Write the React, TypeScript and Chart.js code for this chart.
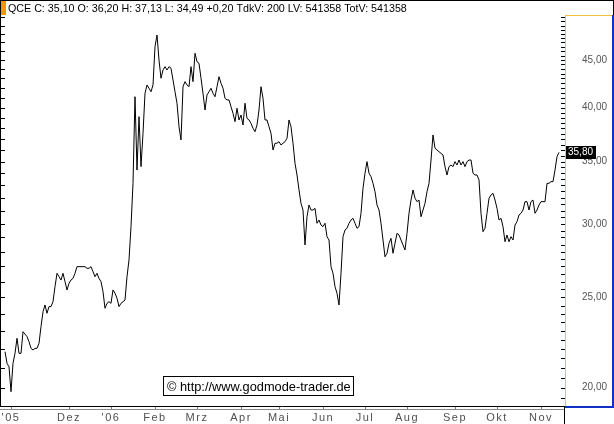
import React, { useEffect, useRef } from "react";
import { Chart, registerables } from "chart.js";

Chart.register(...registerables);

const FONT = "'Liberation Sans', Arial, Helvetica, sans-serif";

const headerText =
  "QCE C: 35,10 O: 36,20 H: 37,13 L: 34,49 +0,20 TdkV: 200 LV: 541358 TotV: 541358";
const copyrightText = "\u00A9 http://www.godmode-trader.de";

// daily closes, index = trading day since start (null = not readable)
const closes: (number | null)[] = [
  21.86, 21.24, 21.06, 19.8, 21.24, 21.77, 22.6, 21.77, 21.77, 22.97,
  null, 22.69, 22.41, 22.04, 21.95, 22.04, 22.04, 22.32, 23.26, 24.13,
  24.54, 24.04, 24.44, 24.44, 24.74, 25.68, 26.54, 26.32, 26.1, 26.54,
  26.0, 25.47, 25.89, 26.1, 26.21, 26.54, 26.98, null, 26.98, null,
  26.98, 26.87, 26.87, 26.98, 26.65, 26.32, 26.54, 26.21, 26.0, 25.36,
  24.34, 24.64, 24.74, 24.64, 25.47, 25.26, 24.95, 24.44, 24.64, 24.74,
  24.84, 26.32, 27.43, 29.79, 33.16, 41.09, 34.27, 39.11, 34.56, 37.53,
  41.44, 42.3, 41.96, 41.6, 42.3, 46.51, 47.87, 45.0, 43.01, 43.9,
  44.26, 43.9, 44.26, 44.09, 42.83, 41.6, 40.43, 38.15, 36.92, 42.12,
  42.65, 42.3, 42.12, 44.26, 42.65, 45.75, 44.81, 44.63, 43.01, 41.44,
  39.76, 41.27, 41.6, 41.96, 41.44, 41.09, 42.12, 43.18, 42.48, 41.96,
  40.93, 40.76, 40.76, 40.09, 39.44, 38.63, 39.93, 38.79, 39.27, 38.31,
  40.43, 38.95, 38.79, 38.47, 38.0, 37.68, 38.31, 39.76, 42.12, 40.93,
  38.79, 38.79, 38.15, 37.53, 36.01, 36.62, 36.62, 36.76, 36.46, 36.62,
  36.76, 37.07, 38.79, 38.15, 36.62, 34.85, 33.85, 32.62, 31.56, 31.04,
  28.47, 30.53, 31.43, 31.04, 31.04, 31.17, 30.04, 30.28, 29.91, 29.79,
  30.04, 29.06, 28.82, 26.98, 26.54, 25.68, 25.26, 24.54, 26.54, 29.06,
  29.54, 29.67, 30.04, 30.28, 30.41, 30.04, 29.67, 29.79, 30.79, 32.76,
  34.0, 34.99, 34.0, 33.71, 33.16, 32.48, 31.43, 31.04, 30.04, 28.82,
  27.65, 27.89, 28.59, 28.94, 27.89, 28.59, 29.3, 29.18, 28.82, 28.47,
  28.12, 29.3, 30.79, 31.82, 32.62, 31.96, 31.69, 31.82, 30.53, 31.04,
  31.56, 32.48, 33.16, 35.13, 37.38, 36.17, 36.01, 35.86, 35.72, 35.57,
  34.56, 33.85, 34.56, 34.7, 34.56, 34.99, 34.7, 35.13, 34.7, 34.99,
  34.56, 34.99, 35.13, 35.13, 34.0, 33.85, 33.85, 33.44, 30.79, 29.42,
  29.67, 30.79, 31.96, 32.22, 32.35, 31.82, 31.17, 30.28, 30.41, 29.79,
  28.7, 29.18, 28.7, 29.06, 28.82, 29.91, 30.16, 30.66, 30.79, 31.04,
  31.69, 31.69, 31.04, 31.69, 31.82, 30.79, 31.04, 31.43, 31.69, 31.69,
  31.69, 33.16, 33.16, 33.3, 33.3, 34.27, 35.42, 35.8,
];

const priceTicks = [20, 25, 30, 35, 40, 45];
const monthTickDays = [3, 32, 53, 75, 96, 118, 137, 159, 180, 201, 225, 246, 268];
const monthLabels = ["'05", "Dez", "'06", "Feb", "Mrz", "Apr", "Mai", "Jun", "Jul", "Aug", "Sep", "Okt", "Nov"];

const yMin = 19.11;
const yMax = 50.3;
const xMin = -2;
const xMax = 280;

const fmt = (v: number) => v.toFixed(2).replace(".", ",");

function line(c: CanvasRenderingContext2D, x1: number, y1: number, x2: number, y2: number, color: string, w = 1) {
  c.beginPath();
  c.strokeStyle = color;
  c.lineWidth = w;
  c.moveTo(x1, y1);
  c.lineTo(x2, y2);
  c.stroke();
}

const decorPlugin = {
  id: "decor",
  beforeDraw(chart: any) {
    const c = chart.ctx as any;
    c.save();
    c.fillStyle = "#fff";
    c.fillRect(0, 0, chart.width, chart.height);
    c.restore();
    // wider spacing for the month labels (x axis labels are drawn before the datasets)
    c.letterSpacing = "1.5px";
  },
  beforeDatasetsDraw(chart: any) {
    (chart.ctx as any).letterSpacing = "0px";
  },
  afterDraw(chart: any) {
    const c = chart.ctx as CanvasRenderingContext2D;
    (c as any).letterSpacing = "0px";
    const { top, bottom, right } = chart.chartArea;
    const ys = chart.scales.y;
    const xs = chart.scales.x;
    const W = chart.width;
    const H = chart.height;
    const R = Math.round(right);
    const B = Math.round(bottom);
    const T = Math.round(top);
    c.save();
    // outer frame of header
    line(c, 0, 0.5, W, 0.5, "#000");
    line(c, 0.5, 0, 0.5, B + 1, "#000");
    line(c, W - 0.5, 0, W - 0.5, T, "#000");
    // orange tag
    c.fillStyle = "#f5960a";
    c.fillRect(1, 1, 5, 14);
    // header text
    c.fillStyle = "#000";
    c.font = `10.7px ${FONT}`;
    c.textAlign = "left";
    c.textBaseline = "alphabetic";
    c.fillText(headerText, 8, 12);
    // left minor ticks
    for (let v = 20; v <= 50; v += 1) {
      const py = Math.round(ys.getPixelForValue(v)) + 0.5;
      if (py > T + 2 && py < B) line(c, 1, py, 5, py, "#000");
    }
    // right minor ticks
    for (let v = 19.5; v <= 50; v += 0.5) {
      const py = Math.round(ys.getPixelForValue(v)) + 0.5;
      if (py > T + 1 && py < B) line(c, R - 4, py, R, py, "#000");
    }
    // bottom axis lines
    line(c, 0, B + 0.5, R, B + 0.5, "#000");
    line(c, 0, B + 3.5, R, B + 3.5, "#8a8a8a");
    for (const d of monthTickDays) {
      const px = Math.round(xs.getPixelForValue(d)) + 0.5;
      line(c, px, B + 1, px, B + 3, "#777");
    }
    line(c, R - 0.5, B, R - 0.5, H, "#000");
    // yellow / blue price-axis frame
    line(c, R + 0.5, T, R + 0.5, B, "#f0c040");
    line(c, R, T + 0.5, W - 2, T + 0.5, "#f0c040");
    c.fillStyle = "#1030c8";
    c.fillRect(W - 2, T, 2, B - T + 2);
    c.fillRect(R, B, W - R, 2);
    // last price label
    const last = closes[closes.length - 1] as number;
    const py = Math.round(ys.getPixelForValue(last));
    c.fillStyle = "#000";
    c.fillRect(R + 1, py - 6, 30, 13);
    c.fillStyle = "#fff";
    c.font = `10px ${FONT}`;
    c.textBaseline = "middle";
    c.fillText(fmt(last), R + 3, py + 0.5);
    // copyright box
    c.fillStyle = "#fff";
    c.fillRect(163, 376, 191, 20);
    c.strokeStyle = "#000";
    c.lineWidth = 1;
    c.strokeRect(163.5, 376.5, 190, 19);
    c.fillStyle = "#000";
    c.font = `12.8px ${FONT}`;
    c.textBaseline = "alphabetic";
    c.fillText(copyrightText, 167, 391);
    c.restore();
  },
};

export default function App() {
  const ref = useRef<HTMLCanvasElement>(null);
  useEffect(() => {
    const canvas = ref.current;
    if (!canvas) return;
    const chart = new Chart(canvas, {
      type: "line",
      data: {
        datasets: [
          {
            data: closes.map((v, i) => ({ x: i, y: v })) as any,
            borderColor: "#000",
            borderWidth: 1,
            pointRadius: 0,
            tension: 0,
            fill: false,
            spanGaps: true,
          },
        ],
      },
      options: {
        responsive: false,
        animation: false,
        devicePixelRatio: 1,
        events: [],
        layout: { padding: { top: 15, left: 1, right: 0, bottom: 0 } },
        plugins: {
          legend: { display: false },
          tooltip: { enabled: false },
          title: { display: false },
        },
        scales: {
          x: {
            type: "linear",
            position: "bottom",
            min: xMin,
            max: xMax,
            grid: { display: false, drawTicks: false },
            border: { display: false },
            afterBuildTicks: (s: any) => {
              s.ticks = monthTickDays.map((v) => ({ value: v }));
            },
            afterFit: (s: any) => {
              s.height = 18;
              s.paddingLeft = 0;
              s.paddingRight = 0;
            },
            ticks: {
              z: 0,
              autoSkip: false,
              maxRotation: 0,
              minRotation: 0,
              padding: 5,
              color: "#505050",
              font: { family: FONT, size: 11 },
              callback: (_v: any, i: number) => monthLabels[i],
            },
          },
          y: {
            type: "logarithmic",
            position: "right",
            min: yMin,
            max: yMax,
            grid: { display: false, drawTicks: false },
            border: { display: false },
            afterBuildTicks: (s: any) => {
              s.ticks = priceTicks.map((v) => ({ value: v }));
            },
            afterFit: (s: any) => {
              s.width = 49;
              s.paddingTop = 0;
              s.paddingBottom = 0;
            },
            ticks: {
              z: 1,
              padding: 17,
              color: "#555",
              crossAlign: "near",
              font: { family: FONT, size: 10 },
              callback: (v: any) => fmt(Number(v)),
            },
          },
        },
      } as any,
      plugins: [decorPlugin],
    });
    return () => chart.destroy();
  }, []);
  return (
    <div style={{ position: "fixed", left: 0, top: 0, width: 614, height: 424, background: "#fff" }}>
      <canvas ref={ref} width={614} height={424} style={{ display: "block", width: 614, height: 424 }} />
    </div>
  );
}
